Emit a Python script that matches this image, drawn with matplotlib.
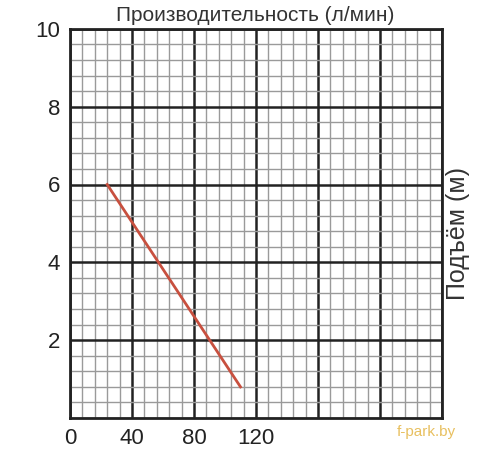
import matplotlib.pyplot as plt
from matplotlib.ticker import MultipleLocator

plt.rcParams['font.family'] = ['Liberation Sans', 'DejaVu Sans']

# Pump curve: flow (l/min) vs head (m)
flow = [24, 110]
head = [6.0, 0.8]

x_ticks = [0, 40, 80, 120, 160, 200, 240]
x_labels = ['0', '40', '80', '120', '', '', '']
y_ticks = [2, 4, 6, 8, 10]
y_labels = ['2', '4', '6', '8', '10']

fig = plt.figure(figsize=(5, 4.5), dpi=100)
ax = fig.add_axes([0.14, 0.071, 0.744, 0.865])

ax.set_xlim(0, 240)
ax.set_ylim(0, 10)

ax.xaxis.set_minor_locator(MultipleLocator(8))
ax.yaxis.set_minor_locator(MultipleLocator(0.4))
ax.set_xticks(x_ticks)
ax.set_xticklabels(x_labels)
ax.set_yticks(y_ticks)
ax.set_yticklabels(y_labels)

ax.grid(which='minor', color='#9a9a9a', linewidth=1.0)
ax.grid(which='major', color='#222222', linewidth=1.8)
ax.set_axisbelow(True)
ax.tick_params(which='both', length=0, labelsize=16, colors='#222222', pad=7)
for s in ax.spines.values():
    s.set_color('#222222')
    s.set_linewidth(2)

ax.plot(flow, head, color='#c8503f', linewidth=2, zorder=3)

fig.text(0.51, 0.965, 'Производительность (л/мин)', ha='center', va='center',
         fontsize=15, color='#333333')
fig.text(0.916, 0.482, 'Подъём (м)', rotation=90, ha='center', va='center',
         fontsize=18, color='#333333')
fig.text(0.852, 0.04, 'f-park.by', ha='center', va='center',
         fontsize=11, color='#e8c060')

fig.savefig('out.png', dpi=100)
